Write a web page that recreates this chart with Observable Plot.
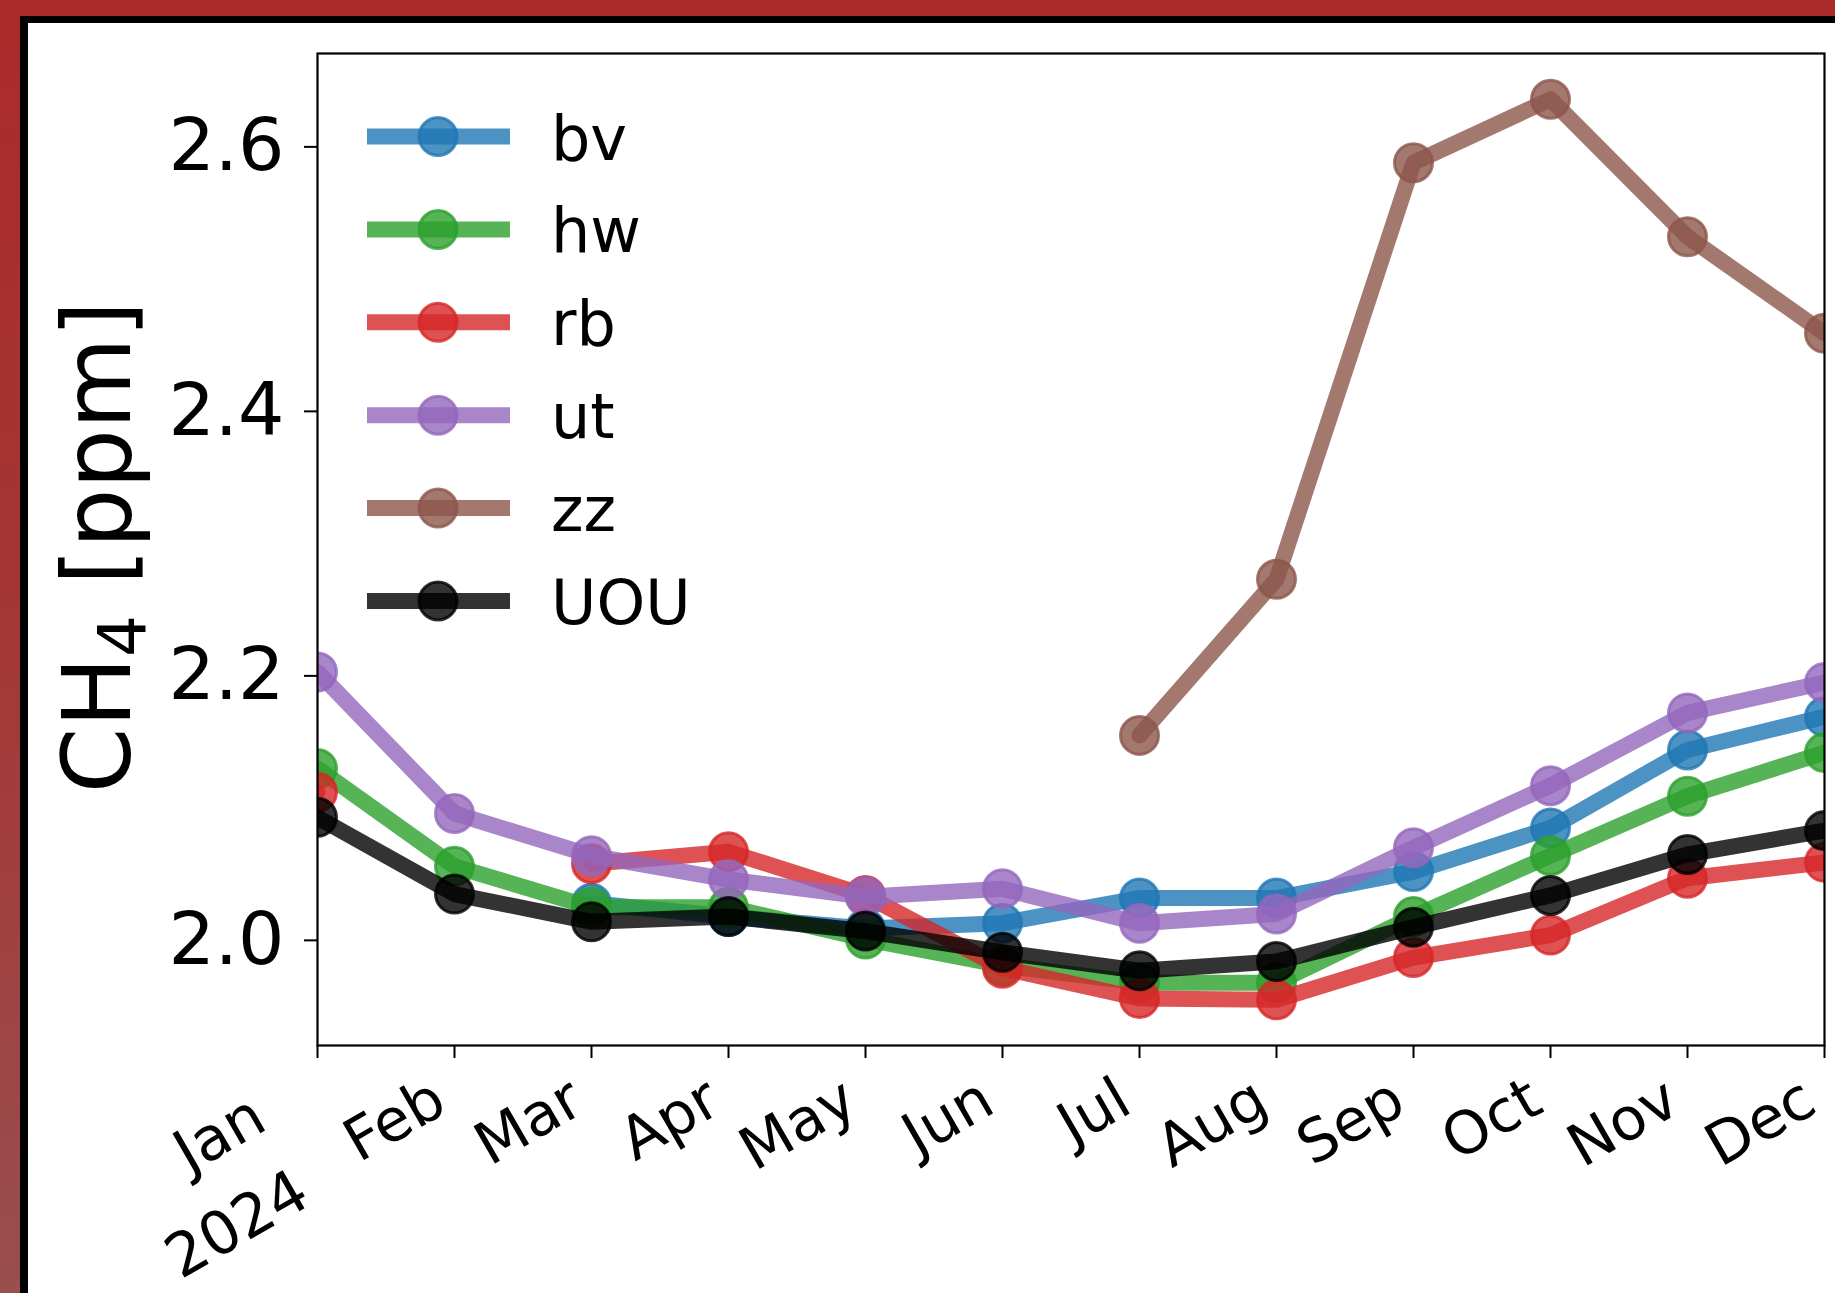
<!DOCTYPE html>
<html><head><meta charset="utf-8">
<script src="https://cdn.jsdelivr.net/npm/d3@7"></script>
<script src="https://cdn.jsdelivr.net/npm/@observablehq/plot@0.6"></script>
<style>
html,body{margin:0;padding:0;}
body{width:1835px;height:1293px;overflow:hidden;position:relative;
  background:linear-gradient(to bottom,#ab2a2a 0%,#a53535 45%,#9a4e4e 100%);
  font-family:"DejaVu Sans",sans-serif;}
#panel{position:absolute;left:20px;top:16px;right:0;bottom:0;background:#fff;
  border-left:8px solid #000;border-top:7px solid #000;}
#chart{position:absolute;left:0;top:0;}
</style></head><body><div id="panel"><div id="chart"></div></div>
<script>
// ---- data ----
const months = ["Jan","Feb","Mar","Apr","May","Jun","Jul","Aug","Sep","Oct","Nov","Dec"];
const yearLabel = "2024";
const seriesNames = ["bv","hw","rb","ut","zz","UOU"];
const seriesColors = ["#1f77b4","#2ca02c","#d62728","#9467bd","#8c564b","#000000"];
const bv  = [null, null, 2.028, 2.018, 2.009, 2.013, 2.032, 2.032, 2.052, 2.085, 2.144, 2.169];
const hw  = [2.130, 2.056, 2.025, 2.025, 2.001, 1.981, 1.968, 1.968, 2.018, 2.064, 2.109, 2.142];
const rb  = [2.112, null, 2.058, 2.067, 2.034, 1.979, 1.956, 1.955, 1.987, 2.004, 2.047, 2.059];
const ut  = [2.203, 2.096, 2.064, 2.046, 2.033, 2.039, 2.013, 2.020, 2.070, 2.117, 2.172, 2.195];
const zz  = [null, null, null, null, null, null, 2.155, 2.273, 2.588, 2.636, 2.532, 2.459];
const UOU = [2.093, 2.035, 2.014, 2.018, 2.007, 1.991, 1.977, 1.984, 2.010, 2.034, 2.065, 2.083];
const yTicks = [2.0, 2.2, 2.4, 2.6];
const yDomain = [1.9205, 2.6706];
const yLabelMain = "CH", yLabelSub = "4", yLabelUnit = " [ppm]";

// ---- build ----
const seriesData = [bv, hw, rb, ut, zz, UOU];
const tables = seriesNames.map((name, i) =>
  months.map((m, j) => ({month: m, value: seriesData[i][j], series: name})));

const dataMarks = [];
tables.forEach((rows, i) => {
  dataMarks.push(Plot.line(rows, {x: "month", y: "value", stroke: seriesColors[i], strokeOpacity: 0.8,
    strokeWidth: 16, strokeLinejoin: "round", clip: true}));
  dataMarks.push(Plot.dot(rows, {x: "month", y: "value", r: 19, fill: seriesColors[i], fillOpacity: 0.8,
    stroke: seriesColors[i], strokeOpacity: 0.8, strokeWidth: 3, clip: true}));
});

const W = 1807, H = 1270;
const chart = Plot.plot({
  width: W, height: H,
  marginLeft: 289, marginRight: 11, marginTop: 30, marginBottom: 248,
  style: {fontFamily: "DejaVu Sans", background: "transparent", overflow: "visible", color: "black"},
  x: {type: "point", domain: months, padding: 0, label: null},
  y: {domain: yDomain, label: null},
  marks: [
    ...dataMarks,
    Plot.frame({stroke: "black", strokeWidth: 2.2}),
    Plot.axisY({ticks: yTicks, tickFormat: d3.format(".1f"), tickSize: 13, tickPadding: 20,
      fontSize: 73, strokeWidth: 2, label: null}),
    Plot.axisX({ticks: months, tickSize: 13, fill: "none", strokeWidth: 2, label: null}),
    Plot.axisX({ticks: months.slice(1), tickSize: 0, tickPadding: 0, tickRotate: -30,
      textAnchor: "end", lineAnchor: "top", dx: -26, dy: 29, fontSize: 59, label: null}),
    Plot.axisX({ticks: months.slice(0, 1), tickFormat: d => d + "\n" + yearLabel, tickSize: 0,
      tickPadding: 0, tickRotate: -30, textAnchor: "end", lineAnchor: "top", dx: -79, dy: 29,
      fontSize: 60, lineHeight: 1.45, label: null})
  ]
});
document.getElementById("chart").appendChild(chart);

// y-axis label with subscript
const svg = d3.select(chart);
const yl = svg.append("text")
  .attr("transform", "translate(102,524) rotate(-90)")
  .attr("text-anchor", "middle").attr("font-size", 94)
  .attr("font-family", "DejaVu Sans").attr("fill", "black");
yl.append("tspan").text(yLabelMain);
yl.append("tspan").attr("font-size", 66).attr("dy", 15).text(yLabelSub);
yl.append("tspan").attr("dy", -15).text(yLabelUnit);

// legend
const lg = svg.append("g").attr("font-family", "DejaVu Sans").attr("text-anchor", "start");
seriesNames.forEach((name, i) => {
  const cy = 113.5 + i * 92.9;
  lg.append("line").attr("x1", 339).attr("x2", 482).attr("y1", cy).attr("y2", cy)
    .attr("stroke", seriesColors[i]).attr("stroke-opacity", 0.8).attr("stroke-width", 16);
  lg.append("circle").attr("cx", 410).attr("cy", cy).attr("r", 19)
    .attr("fill", seriesColors[i]).attr("fill-opacity", 0.8)
    .attr("stroke", seriesColors[i]).attr("stroke-opacity", 0.8).attr("stroke-width", 3);
  lg.append("text").attr("x", 523).attr("y", cy + 23).attr("font-size", 62)
    .attr("text-anchor", "start").attr("fill", "black").text(name);
});
</script></body></html>
